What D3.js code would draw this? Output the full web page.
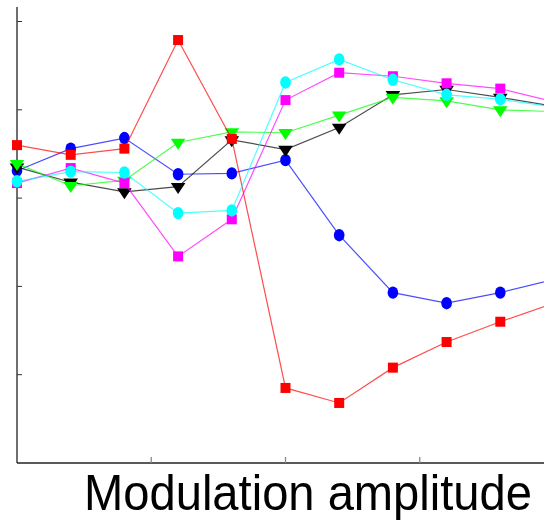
<!DOCTYPE html>
<html>
<head>
<meta charset="utf-8">
<script src="https://cdn.jsdelivr.net/npm/d3@7"></script>
<style>
  html, body { margin: 0; padding: 0; background: #fff; overflow: hidden; }
  svg { display: block; }
</style>
</head>
<body>
<div id="chart"></div>
<script>
// modulation amplitude steps (last point falls just outside the crop)
const amplitudes = [0, 0.1, 0.2, 0.3, 0.4, 0.5, 0.6, 0.7, 0.8, 0.9, 1.0];
const xTicks = [0.25, 0.5, 0.75];
const yTicks = [1, 2, 3, 4, 5];

// series values
const redSquares     = [3.60, 3.49, 3.56, 4.79, 3.67, 0.85, 0.68, 1.08, 1.37, 1.60, 1.81];
const blueCircles    = [3.31, 3.56, 3.68, 3.27, 3.28, 3.43, 2.58, 1.93, 1.81, 1.93, 2.08];
const blackTriangles = [3.35, 3.18, 3.07, 3.13, 3.66, 3.55, 3.80, 4.17, 4.23, 4.14, 4.04];
const greenTriangles = [3.39, 3.14, 3.20, 3.63, 3.75, 3.74, 3.94, 4.14, 4.10, 4.00, 3.98];
const magentaSquares = [3.17, 3.34, 3.17, 2.34, 2.76, 4.11, 4.42, 4.38, 4.30, 4.24, 4.09];
const cyanCircles    = [3.19, 3.30, 3.29, 2.83, 2.86, 4.31, 4.57, 4.34, 4.17, 4.12, 4.03];

const series = [
  { values: blueCircles,    color: "#0000ff", marker: "circle" },
  { values: blackTriangles, color: "#000000", marker: "triangle" },
  { values: greenTriangles, color: "#00ff00", marker: "triangle" },
  { values: redSquares,     color: "#ff0000", marker: "square" },
  { values: magentaSquares, color: "#ff00ff", marker: "square" },
  { values: cyanCircles,    color: "#00ffff", marker: "circle" }
];

const width = 544, height = 521;

const svg = d3.select("#chart").append("svg")
  .attr("width", width)
  .attr("height", height);

const x = d3.scaleLinear().domain([0, 1]).range([17, 554]);
const y = d3.scaleLinear().domain([0, 5]).range([463, 21.5]);

// axes (MATLAB style, ticks inward, no labels visible in the crop)
svg.append("line")
  .attr("x1", x(0)).attr("x2", x(0))
  .attr("y1", 7).attr("y2", y(0))
  .attr("stroke", "#222").attr("stroke-width", 1.3);
svg.append("line")
  .attr("x1", x(0)).attr("x2", width)
  .attr("y1", y(0)).attr("y2", y(0))
  .attr("stroke", "#222").attr("stroke-width", 1.3);

svg.append("g").selectAll("line")
  .data(yTicks)
  .join("line")
  .attr("x1", x(0)).attr("x2", x(0) + 5)
  .attr("y1", d => y(d)).attr("y2", d => y(d))
  .attr("stroke", "#333").attr("stroke-width", 1);

svg.append("g").selectAll("line")
  .data(xTicks)
  .join("line")
  .attr("x1", d => x(d)).attr("x2", d => x(d))
  .attr("y1", y(0)).attr("y2", y(0) - 6)
  .attr("stroke", "#888").attr("stroke-width", 1.3);

const line = d3.line()
  .x((d, i) => x(amplitudes[i]))
  .y(d => y(d));

const tri = d3.symbol().type(d3.symbolTriangle).size(70);

series.forEach(s => {
  const g = svg.append("g");
  g.append("path")
    .attr("d", line(s.values))
    .attr("fill", "none")
    .attr("stroke", s.color)
    .attr("stroke-opacity", 0.7)
    .attr("stroke-width", 1.2);

  const pts = g.selectAll(".m")
    .data(s.values)
    .join("g")
    .attr("transform", (d, i) => `translate(${x(amplitudes[i])},${y(d)})`);

  if (s.marker === "square") {
    pts.append("rect")
      .attr("x", -5).attr("y", -5)
      .attr("width", 10).attr("height", 10)
      .attr("fill", s.color);
  } else if (s.marker === "circle") {
    pts.append("ellipse")
      .attr("rx", 5.3).attr("ry", 6.2)
      .attr("fill", s.color);
  } else {
    pts.append("path")
      .attr("d", tri)
      .attr("transform", "rotate(180) scale(1.15,1)")
      .attr("fill", s.color);
  }
});

// x label
svg.append("text")
  .attr("x", 84)
  .attr("y", 509.5)
  .attr("font-family", "Liberation Sans, Arial, sans-serif")
  .attr("font-size", 50)
  .attr("textLength", 448)
  .attr("lengthAdjust", "spacingAndGlyphs")
  .attr("fill", "#000")
  .text("Modulation amplitude");
</script>
</body>
</html>
